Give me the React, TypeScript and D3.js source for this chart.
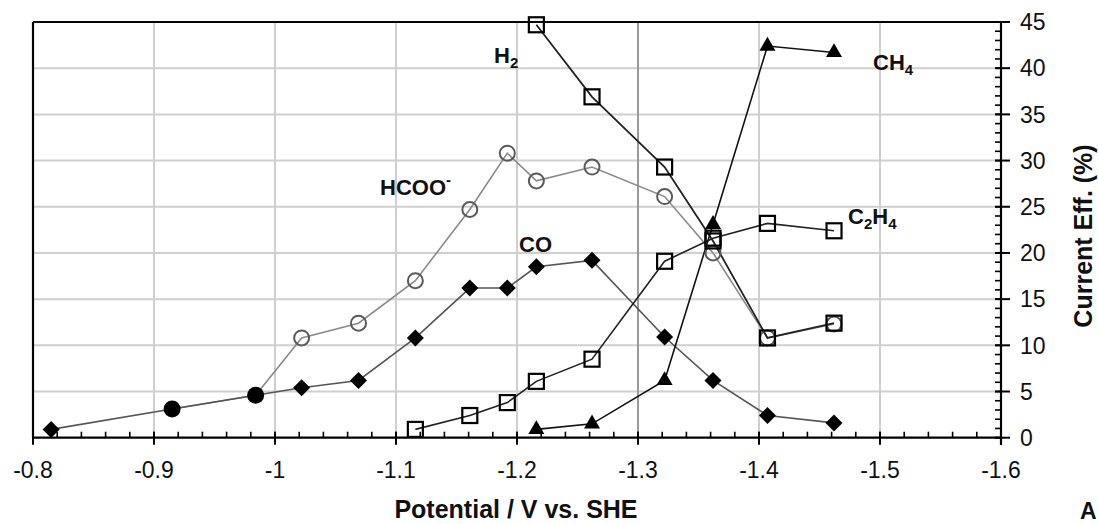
import React from "react";
import * as d3 from "d3";

// Electrode potential (V vs. SHE) at which each electrolysis was run
const potentials = [-0.815, -0.915, -0.984, -1.022, -1.069, -1.116, -1.161, -1.192, -1.216, -1.262, -1.322, -1.362, -1.407, -1.462];

// Faradaic (current) efficiency, %, per product; null = not measured
const coEff = [0.9, 3.1, 4.6, 5.4, 6.2, 10.8, 16.2, 16.2, 18.5, 19.2, 10.9, 6.2, 2.4, 1.6];
const hcooEff = [null, 3.1, 4.6, 10.8, 12.4, 17.0, 24.7, 30.8, 27.8, 29.3, 26.1, 20.0, 10.8, 12.3];
const c2h4Eff = [null, null, null, null, null, 0.9, 2.4, 3.8, 6.1, 8.5, 19.1, 21.6, 23.2, 22.4];
const h2Eff = [null, null, null, null, null, null, null, null, 44.7, 36.9, 29.3, 21.3, 10.8, 12.4];
const ch4Eff = [null, null, null, null, null, null, null, null, 0.9, 1.5, 6.2, 23.1, 42.4, 41.7];

const xTicks = [-0.8, -0.9, -1.0, -1.1, -1.2, -1.3, -1.4, -1.5, -1.6];
const xTickLabels = ["-0.8", "-0.9", "-1", "-1.1", "-1.2", "-1.3", "-1.4", "-1.5", "-1.6"];
const yTicks = [0, 5, 10, 15, 20, 25, 30, 35, 40, 45];

const W = 1099;
const H = 524;
const left = 33;
const right = 1001;
const top = 22;
const bottom = 437.7;

const x = d3.scaleLinear().domain([-0.8, -1.6]).range([left, right]);
const y = d3.scaleLinear().domain([0, 45]).range([bottom, top]);

type Pt = { v: number; e: number };
const pts = (vals: (number | null)[]): Pt[] =>
  vals
    .map((e, i) => (e == null ? null : { v: potentials[i], e }))
    .filter((p): p is Pt => p != null);

const lineGen = d3
  .line<Pt>()
  .x((d) => x(d.v))
  .y((d) => y(d.e));

const font = "'Liberation Sans', Arial, sans-serif";
const ink = "#111";

export default function App() {
  const co = pts(coEff);
  const hcoo = pts(hcooEff);
  const c2h4 = pts(c2h4Eff);
  const h2 = pts(h2Eff);
  const ch4 = pts(ch4Eff);

  // points where formate and CO coincide are drawn as solid circles
  const shared = co.filter((p) => hcoo.some((q) => q.v === p.v && q.e === p.e));
  const coOnly = co.filter((p) => !shared.includes(p));
  const hcooOnly = hcoo.filter((q) => !shared.some((p) => p.v === q.v));

  const minorX = d3.range(-0.8, -1.6001, -0.02);
  const minorY = d3.range(0, 45.001, 1);

  const diamond = (cx: number, cy: number, r: number) =>
    `M${cx},${cy - r}L${cx + r},${cy}L${cx},${cy + r}L${cx - r},${cy}Z`;
  const triangle = (cx: number, cy: number, s: number) => {
    const h = s * 0.866;
    return `M${cx},${cy - (2 * h) / 3}L${cx + s / 2},${cy + h / 3}L${cx - s / 2},${cy + h / 3}Z`;
  };

  return (
    <svg width={W} height={H} style={{ position: "absolute", left: 0, top: 0, background: "#fff" }}>
      <rect width={W} height={H} fill="#fff" />
      {/* grid */}
      {yTicks.slice(1, -1).map((t) => (
        <line key={"gy" + t} x1={left} x2={right} y1={y(t)} y2={y(t)} stroke="#cfcfcf" strokeWidth={2} />
      ))}
      {xTicks.slice(1, -1).map((t) => (
        <line
          key={"gx" + t}
          x1={x(t)}
          x2={x(t)}
          y1={top}
          y2={bottom}
          stroke={t === -1.3 ? "#9a9a9a" : "#cfcfcf"}
          strokeWidth={2}
        />
      ))}

      {/* series lines */}
      <path d={lineGen(hcoo) || ""} fill="none" stroke="#8a8a8a" strokeWidth={1.6} />
      <path d={lineGen(co) || ""} fill="none" stroke="#555" strokeWidth={1.6} />
      <path d={lineGen(c2h4) || ""} fill="none" stroke="#222" strokeWidth={1.6} />
      <path d={lineGen(h2) || ""} fill="none" stroke="#222" strokeWidth={1.8} />
      <path d={lineGen(ch4) || ""} fill="none" stroke="#111" strokeWidth={1.6} />

      {/* markers */}
      {hcooOnly.map((p, i) => (
        <circle key={"hc" + i} cx={x(p.v)} cy={y(p.e)} r={7.5} fill="none" stroke="#5a5a5a" strokeWidth={2} />
      ))}
      {shared.map((p, i) => (
        <circle key={"sh" + i} cx={x(p.v)} cy={y(p.e)} r={8.5} fill="#000" />
      ))}
      {coOnly.map((p, i) => (
        <path key={"co" + i} d={diamond(x(p.v), y(p.e), 8.5)} fill="#000" />
      ))}
      {c2h4.map((p, i) => (
        <rect key={"c2" + i} x={x(p.v) - 7.5} y={y(p.e) - 7.5} width={15} height={15} fill="none" stroke="#000" strokeWidth={2.2} />
      ))}
      {h2.map((p, i) => (
        <rect key={"h2" + i} x={x(p.v) - 7.5} y={y(p.e) - 7.5} width={15} height={15} fill="none" stroke="#000" strokeWidth={2.2} />
      ))}
      {ch4.map((p, i) => (
        <path key={"ch" + i} d={triangle(x(p.v), y(p.e), 16)} fill="#000" />
      ))}

      {/* frame */}
      <line x1={left} x2={right} y1={top} y2={top} stroke="#000" strokeWidth={2} />
      <line x1={left} x2={left} y1={top} y2={bottom} stroke="#000" strokeWidth={2.2} />
      <line x1={left} x2={right} y1={bottom} y2={bottom} stroke="#000" strokeWidth={2.2} />
      <line x1={right} x2={right} y1={top} y2={bottom + 7} stroke="#000" strokeWidth={2.2} />

      {/* x axis ticks */}
      {minorX.map((t, i) => (
        <line key={"mx" + i} x1={x(t)} x2={x(t)} y1={bottom - 6} y2={bottom} stroke="#000" strokeWidth={1.6} />
      ))}
      {xTicks.map((t, i) => (
        <g key={"tx" + i}>
          <line x1={x(t)} x2={x(t)} y1={bottom - 6} y2={bottom + 7} stroke="#000" strokeWidth={2} />
          <text x={x(t)} y={478} textAnchor="middle" fontFamily={font} fontSize={23} fill={ink}>
            {xTickLabels[i]}
          </text>
        </g>
      ))}

      {/* right axis ticks */}
      {minorY.map((t, i) => (
        <line key={"my" + i} x1={right - 6} x2={right} y1={y(t)} y2={y(t)} stroke="#000" strokeWidth={1.6} />
      ))}
      {yTicks.map((t) => (
        <g key={"ty" + t}>
          <line x1={right - 6} x2={right + 9} y1={y(t)} y2={y(t)} stroke="#000" strokeWidth={2} />
          <text x={1020} y={y(t)} dy="0.36em" textAnchor="start" fontFamily={font} fontSize={23} fill={ink}>
            {t}
          </text>
        </g>
      ))}

      {/* axis titles */}
      <text x={516} y={518} textAnchor="middle" fontFamily={font} fontSize={25} fontWeight="bold" fill={ink}>
        Potential / V vs. SHE
      </text>
      <text
        transform="translate(1092,236) rotate(-90)"
        textAnchor="middle"
        fontFamily={font}
        fontSize={25}
        fontWeight="bold"
        fill={ink}
      >
        Current Eff. (%)
      </text>
      <text x={1080} y={519} fontFamily={font} fontSize={23} fontWeight="bold" fill={ink}>
        A
      </text>

      {/* product labels */}
      <g fontFamily={font} fontWeight="bold" fill={ink} fontSize={22}>
        <text x={494} y={63}>
          H<tspan fontSize={15} dy={5}>2</tspan>
        </text>
        <text x={380} y={195}>
          HCOO<tspan fontSize={15} dy={-10}>-</tspan>
        </text>
        <text x={519} y={252}>CO</text>
        <text x={873} y={70}>
          CH<tspan fontSize={15} dy={5}>4</tspan>
        </text>
        <text x={848} y={224}>
          C<tspan fontSize={15} dy={5}>2</tspan>
          <tspan dy={-5}>H</tspan>
          <tspan fontSize={15} dy={5}>4</tspan>
        </text>
      </g>
    </svg>
  );
}
